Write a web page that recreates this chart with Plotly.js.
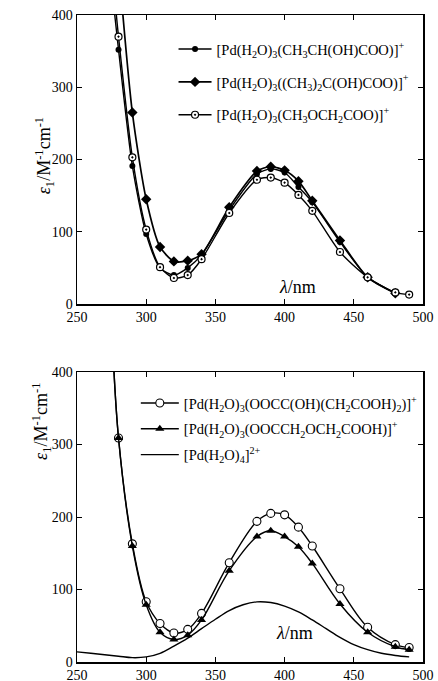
<!DOCTYPE html>
<html>
<head>
<meta charset="utf-8">
<script src="https://cdn.plot.ly/plotly-3.0.1.min.js"></script>
<style>html,body{margin:0;padding:0;background:#fff;}#chart{width:438px;height:681px;}</style>
</head>
<body>
<div id="chart"></div>
<script>
// ---- Top panel data ----
const lacticX   = [275, 280, 290, 300, 310, 320, 330, 340, 360, 380, 390, 400, 410, 420, 440, 460, 480];
const lacticY   = [440, 352, 191, 97, 50, 40, 50, 68, 130, 180, 187, 182, 162, 141, 86, 37, 15];
const hibaX     = [280, 290, 300, 310, 320, 330, 340, 360, 380, 390, 400, 410, 420, 440, 460, 480];
const hibaY     = [470, 265, 145, 79, 59, 60, 69, 134, 184, 190, 185, 170, 143, 88, 37, 15];
const methoxyX  = [275, 280, 290, 300, 310, 320, 330, 340, 360, 380, 390, 400, 410, 420, 440, 460, 480, 490];
const methoxyY  = [470, 370, 203, 103, 51, 36, 40, 62, 126, 172, 175, 168, 151, 129, 72, 37, 16, 13];

// ---- Bottom panel data ----
const citricX   = [275, 280, 290, 300, 310, 320, 330, 340, 360, 380, 390, 400, 410, 420, 440, 460, 480, 490];
const citricY   = [470, 309, 163, 83, 53, 40, 45, 67, 137, 194, 205, 203, 186, 160, 101, 48, 24, 20];
const diglyX    = [275, 280, 290, 300, 310, 320, 330, 340, 360, 380, 390, 400, 410, 420, 440, 460, 480, 490];
const diglyY    = [470, 309, 160, 79, 41, 31, 37, 58, 126, 173, 181, 173, 159, 136, 80, 41, 21, 17];
const aquaX     = [250, 260, 270, 280, 290, 300, 310, 320, 330, 340, 350, 360, 370, 380, 390, 400, 410, 420, 430, 440, 450, 460, 470, 480, 490];
const aquaY     = [14, 12, 10, 8, 6, 7, 12, 22, 33, 46, 59, 71, 79, 83, 82, 77, 69, 58, 46, 34, 24, 17, 12, 9, 7];

// ---- Labels ----
const xTicks = [250, 300, 350, 400, 450, 500];
const yTicks = [0, 100, 200, 300, 400];
const names = {
  lactic:  '[Pd(H<sub>2</sub>O)<sub>3</sub>(CH<sub>3</sub>CH(OH)COO)]<sup>+</sup>',
  hiba:    '[Pd(H<sub>2</sub>O)<sub>3</sub>((CH<sub>3</sub>)<sub>2</sub>C(OH)COO)]<sup>+</sup>',
  methoxy: '[Pd(H<sub>2</sub>O)<sub>3</sub>(CH<sub>3</sub>OCH<sub>2</sub>COO)]<sup>+</sup>',
  citric:  '[Pd(H<sub>2</sub>O)<sub>3</sub>(OOCC(OH)(CH<sub>2</sub>COOH)<sub>2</sub>)]<sup>+</sup>',
  digly:   '[Pd(H<sub>2</sub>O)<sub>3</sub>(OOCCH<sub>2</sub>OCH<sub>2</sub>COOH)]<sup>+</sup>',
  aqua:    '[Pd(H<sub>2</sub>O)<sub>4</sub>]<sup>2+</sup>'
};
const yTitle = '<i>ε</i><sub>1</sub>/M<sup>-1</sup>cm<sup>-1</sup>';
const xTitle = '<i>λ</i>/nm';

const FONT = 'Liberation Serif, Times New Roman, serif';
const lineStyle = {color: '#000', width: 1.4, shape: 'spline', smoothing: 0.7};

const traces = [
  {x: lacticX, y: lacticY, name: names.lactic, mode: 'lines+markers', xaxis: 'x', yaxis: 'y',
   line: lineStyle, marker: {symbol: 'circle', size: 6, color: '#000'}, legend: 'legend', legendgroup: 'a'},
  {x: hibaX, y: hibaY, name: names.hiba, mode: 'lines+markers', xaxis: 'x', yaxis: 'y',
   line: Object.assign({}, lineStyle, {width: 1.7}), marker: {symbol: 'diamond', size: 8, color: '#000'}, legend: 'legend', legendgroup: 'b'},
  {x: methoxyX, y: methoxyY, name: names.methoxy, mode: 'lines+markers', xaxis: 'x', yaxis: 'y',
   line: lineStyle, marker: {symbol: 'circle-dot', size: 7, color: '#fff', line: {color: '#000', width: 1.2}}, legend: 'legend', legendgroup: 'c'},
  {x: citricX, y: citricY, name: names.citric, mode: 'lines+markers', xaxis: 'x2', yaxis: 'y2',
   line: Object.assign({}, lineStyle, {smoothing: 1}), marker: {symbol: 'circle', size: 8, color: '#fff', line: {color: '#000', width: 1.1}}, legend: 'legend2', legendgroup: 'd'},
  {x: diglyX, y: diglyY, name: names.digly, mode: 'lines+markers', xaxis: 'x2', yaxis: 'y2',
   line: Object.assign({}, lineStyle, {smoothing: 1}), marker: {symbol: 'triangle-up', size: 8, color: '#000'}, legend: 'legend2', legendgroup: 'e'},
  {x: aquaX, y: aquaY, name: names.aqua, mode: 'lines', xaxis: 'x2', yaxis: 'y2',
   line: Object.assign({}, lineStyle, {smoothing: 1}), legend: 'legend2', legendgroup: 'f'}
];

const axisCommon = {
  showgrid: false, zeroline: false, showline: true, linecolor: '#000', linewidth: 1.5,
  mirror: 'ticks', ticks: 'inside', ticklen: 5, tickwidth: 1, tickcolor: '#000',
  tickfont: {family: FONT, size: 14, color: '#000'}
};
function xa(anchor) { return Object.assign({}, axisCommon, {range: [250, 500], tickvals: xTicks, anchor: anchor}); }
function ya(anchor, dom) { return Object.assign({}, axisCommon, {range: [0, 400], tickvals: yTicks, anchor: anchor, domain: dom, ticklabelstandoff: 0}); }

const legendCommon = {
  font: {family: FONT, size: 14.5, color: '#000'}, bgcolor: 'rgba(0,0,0,0)', borderwidth: 0,
  traceorder: 'grouped', xanchor: 'left', yanchor: 'top'
};

const layout = {
  width: 438, height: 681,
  margin: {l: 77, r: 15, t: 15, b: 19},
  paper_bgcolor: '#fff', plot_bgcolor: '#fff',
  showlegend: true,
  xaxis: xa('y'), yaxis: ya('x', [0.5533, 1]),
  xaxis2: xa('y2'), yaxis2: ya('x2', [0, 0.4482]),
  legend: Object.assign({}, legendCommon, {x: 0.279, y: 0.972, tracegroupgap: 11, itemwidth: 33}),
  legend2: Object.assign({}, legendCommon, {x: 0.17, y: 0.425, tracegroupgap: 4, itemwidth: 38}),
  annotations: [
    {text: yTitle, xref: 'paper', yref: 'paper', x: -0.136, y: 0.845, showarrow: false, textangle: -90,
     font: {family: FONT, size: 18, color: '#000'}},
    {text: yTitle, xref: 'paper', yref: 'paper', x: -0.145, y: 0.309, showarrow: false, textangle: -90,
     font: {family: FONT, size: 18, color: '#000'}},
    {text: xTitle, xref: 'paper', yref: 'paper', x: 0.636, y: 0.5796, showarrow: false,
     font: {family: FONT, size: 18, color: '#000'}},
    {text: xTitle, xref: 'paper', yref: 'paper', x: 0.688, y: 0.0263, showarrow: false,
     font: {family: FONT, size: 18, color: '#000'}}
  ]
};

Plotly.newPlot('chart', traces, layout, {staticPlot: true, displayModeBar: false});
</script>
</body>
</html>
